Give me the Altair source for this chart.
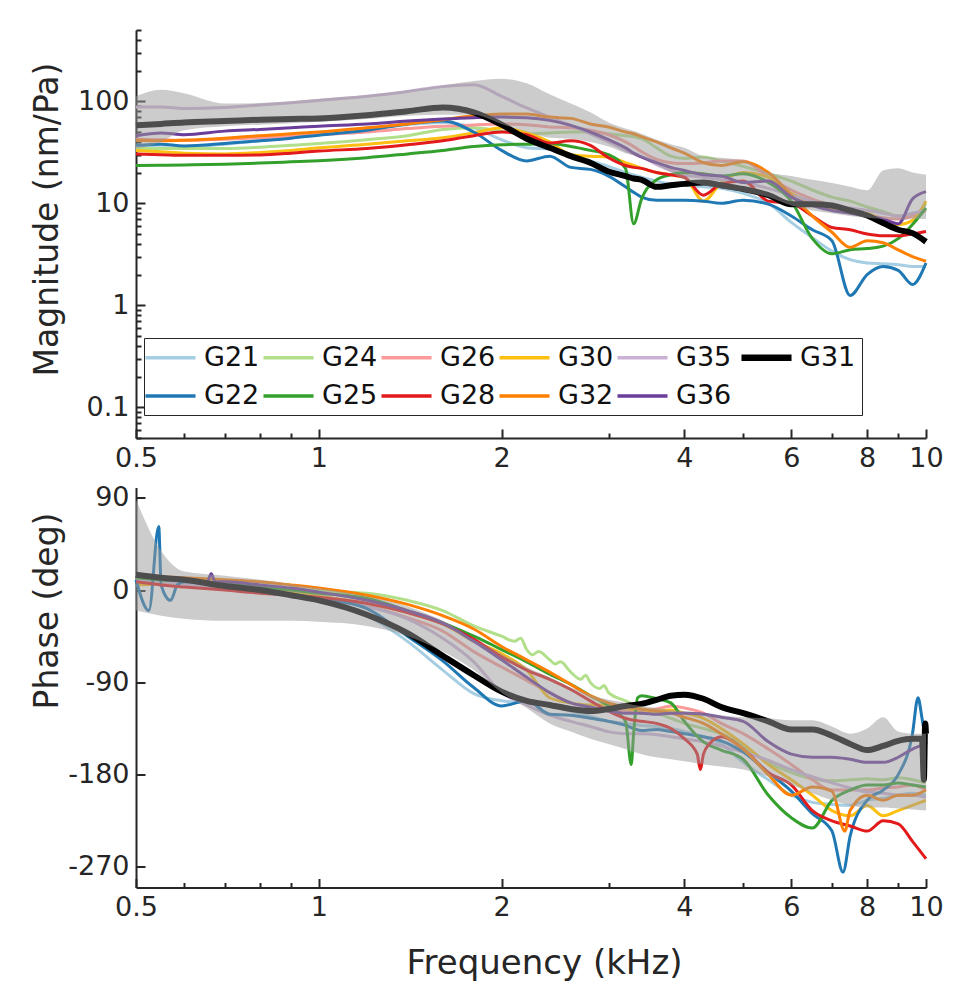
import altair as alt
import pandas as pd

# ---------------- data ----------------
F = [0.5, 0.55, 0.6, 0.7, 0.8, 0.9, 1.0, 1.2, 1.4, 1.6, 1.8, 2.0, 2.2, 2.4, 2.6, 2.8,
     3.0, 3.2, 3.3, 3.4, 3.6, 3.8, 4.0, 4.3, 4.6, 5.0, 5.5, 6.0, 6.5, 7.0, 7.5, 8.0,
     8.5, 9.0, 9.5, 10.0]

SERIES = ["G21", "G24", "G26", "G30", "G35", "G31", "G22", "G25", "G28", "G32", "G36"]
COLORS = ["#a6cee3", "#b2df8a", "#fb9a99", "#fdbf12", "#cab2d6", "#000000",
          "#1f78b4", "#33a02c", "#e31a1c", "#ff7f00", "#6a3d9a"]

# magnitude (nm/Pa)
MAG_G21 = [36, 35, 35.5, 38, 41, 44, 47, 53, 59, 62, 55, 42, 35, 34, 30, 26, 23, 20, 19, 18, 16.5, 15.5, 15, 14.5, 14, 12.5, 10, 6.5, 4.6, 3.4, 2.8, 2.6, 2.55, 2.5, 2.4, 2.4]
MAG_G22 = [37, 38, 36.5, 38.5, 41, 43.5, 46.5, 52, 60, 64, 50, 33, 26, 29, 22.5, 21.5, 18.5, 14.5, 12.8, 11.5, 10.7, 10.7, 10.7, 10.5, 10, 10.7, 9.8, 7.5, 5.5, 4.3, 1.25, 2.0, 2.4, 2.2, 1.6, 2.6]
MAG_G24 = [34.5, 34.5, 34.5, 34.5, 35.5, 37, 38.5, 42, 46, 53, 55, 51, 48, 49, 50, 50, 48, 46, 45, 43, 35, 29, 27.5, 28.5, 26, 23, 19.5, 16.5, 13.5, 11.5, 10.5, 9.2, 8.3, 7.5, 7.5, 10]
MAG_G25 = [23.5, 23.6, 23.8, 24.2, 24.8, 25.5, 26.2, 28, 30.5, 33, 36, 37.5, 38, 38.5, 36, 33, 30, 22, 6.3, 11, 17, 19, 20, 19.5, 18.5, 19.5, 16, 10.5, 4.5, 3.2, 3.5, 3.6, 3.8, 4.5, 6.2, 9]
MAG_G26 = [42.5, 42, 41.5, 42.5, 44, 45.5, 47, 50, 54, 57, 58.5, 60, 59, 56, 55, 52, 47, 40, 36, 32, 27, 25, 24.5, 25, 26, 26, 18, 13.5, 11, 9.5, 8.5, 7.8, 7.2, 7, 7.5, 8.5]
MAG_G28 = [30.5, 30, 29.5, 29.5, 29.8, 31, 32.5, 34.5, 37.5, 41, 46, 50, 47, 39, 41, 37, 28, 23.5, 22.5, 22, 20, 19, 18, 12, 15.5, 16.5, 10.5, 10, 7.5, 5.8, 5.5, 5, 4.8, 4.8, 5, 5.3]
MAG_G30 = [33, 32, 31, 30.5, 31.5, 33, 35, 38, 41, 44, 49, 55, 49, 40, 30, 29, 28.5, 25, 23.5, 22, 20, 19, 18, 10.5, 16, 20, 18, 12.5, 10, 9, 8.5, 8, 6.8, 6.2, 6.8, 10.5]
MAG_G32 = [41.5, 41, 41.5, 43.5, 46, 48, 50, 55, 60, 66, 72, 75, 75, 70, 68, 60, 56, 50, 48, 45, 40, 35, 31, 25, 23.5, 25.5, 20, 12, 7.5, 5.2, 3.7, 4.3, 4.1, 3.5, 3.0, 2.7]
MAG_G35 = [88, 88, 85, 87, 92, 97, 102, 112, 125, 140, 145, 112, 86, 70, 58, 48, 40, 33, 30.5, 28.5, 24, 21, 19, 18, 17, 16, 14, 12, 10.5, 9.5, 9, 8.5, 8, 7.5, 8, 8.5]
MAG_G36 = [46, 49, 47, 51, 53, 55, 57, 60, 64, 67, 69, 70, 69, 65, 58, 50, 42, 35, 31, 28.5, 25, 22.5, 21, 19, 18.5, 16, 16.5, 11.5, 9.5, 8.5, 8, 7.5, 7, 6.3, 11, 13]
MAG_G31 = [58, 60, 62, 64, 66, 67, 68, 73, 80, 87, 78, 59, 43, 35, 29, 25, 20.5, 18.5, 17.5, 17, 14.5, 15, 15.5, 16, 15, 13.8, 12, 9.8, 9.8, 9.5, 8.5, 7.6, 6.4, 5.5, 5.1, 4.2]
MAG_BAND_HI = [112, 130, 120, 95, 96, 100, 106, 115, 128, 143, 158, 166, 150, 117, 95, 78, 62, 54, 51, 48, 42, 38, 35, 29, 28, 26.5, 20.2, 18.5, 17, 15.8, 14.5, 13.4, 21, 22, 20, 19]
MAG_BAND_LO = [34, 40, 52, 57, 59, 61, 63, 67, 72, 74, 74, 60, 50, 44, 43, 40, 36, 31, 29.5, 28, 24, 20, 17, 15, 14, 13, 11.5, 9.5, 8.5, 8, 7.5, 7.2, 7, 6.8, 7, 7]

# phase (deg)
PH_G21 = [10, 5, 5, 2, -1, -5, -9, -25, -50, -78, -101, -108, -110, -113, -118, -123, -128, -130, -131, -132, -133, -135, -138, -143, -150, -168, -185, -200, -207, -209, -210, -205, -203, -200, -198, -200]
PH_G22 = [10, 5, 8, 5, 0, -4, -8, -18, -45, -69, -95, -113, -108, -121, -122, -125, -128, -132, -135, -137, -136, -138, -140, -143, -147, -158, -178, -196, -218, -235, -240, -205, -195, -180, -140, -150]
PH_G24 = [12, 10, 9, 7, 4, 1, -1, -3, -10, -20, -35, -45, -58, -68, -80, -90, -100, -108, -112, -116, -120, -125, -130, -135, -140, -152, -168, -178, -184, -186, -185, -184, -185, -183, -185, -188]
PH_G25 = [12, 10, 9, 6, 3, 0, -3, -8, -20, -32, -45, -58, -70, -82, -92, -103, -113, -128, -140, -103, -106, -110, -128, -148, -156, -165, -200, -222, -232, -205, -195, -190, -190, -188, -190, -192]
PH_G26 = [13, 11, 9, 6, 3, -1, -6, -15, -27, -40, -60, -75, -88, -100, -110, -114, -117, -118, -118, -118, -116, -113, -115, -120, -130, -140, -155, -170, -185, -195, -195, -195, -193, -192, -190, -195]
PH_G28 = [8, 5, 3, 0, -3, -5, -7, -13, -22, -33, -48, -65, -78, -87, -97, -108, -118, -125, -127, -128, -130, -135, -145, -160, -143, -155, -178, -190, -215, -225, -230, -235, -225, -228, -245, -262]
PH_G30 = [5, 6, 8, 5, 1, -3, -6, -13, -22, -33, -50, -62, -78, -105, -110, -112, -112, -115, -117, -120, -118, -117, -120, -125, -135, -150, -170, -185, -200, -215, -220, -210, -220, -215, -210, -205]
PH_G32 = [14, 13, 12, 10, 8, 5, 2, -5, -14, -25, -38, -55, -68, -80, -92, -103, -110, -114, -115, -116, -118, -120, -124, -130, -140, -155, -180, -200, -192, -196, -215, -200, -205, -200, -200, -195]
PH_G35 = [10, 8, 6, 3, -1, -5, -9, -16, -28, -47, -70, -100, -112, -122, -128, -133, -138, -140, -140, -140, -141, -143, -145, -148, -152, -158, -166, -175, -182, -188, -193, -197, -198, -200, -200, -202]
PH_G36 = [14, 12, 10, 8, 5, 2, -2, -10, -20, -32, -50, -68, -85, -100, -110, -114, -118, -120, -120, -120, -121, -120, -120, -121, -124, -128, -148, -160, -163, -163, -165, -168, -168, -163, -155, -150]
PH_G31 = [15, 12, 10, 4, 0, -5, -10, -24, -42, -64, -83, -99, -108, -112, -116, -118, -116, -113, -112, -111, -107, -103, -102, -106, -114, -120, -128, -136, -136, -142, -150, -156, -152, -147, -145, -140]
PH_BAND_HI = [88, 38, 18, 14, 10, 6, 2, -6, -16, -30, -48, -62, -75, -85, -95, -102, -107, -110, -112, -113, -115, -117, -118, -120, -122, -124, -125, -127, -127, -133, -140, -135, -124, -138, -140, -140]
PH_BAND_LO = [-20, -25, -28, -30, -30, -30, -31, -35, -45, -60, -78, -100, -115, -130, -138, -145, -150, -155, -158, -160, -163, -165, -167, -170, -172, -175, -182, -190, -198, -205, -210, -212, -212, -213, -214, -215]

# extra detail points (frequency kHz, phase deg)
PH_EXTRA_G22 = [(0.525, -20), (0.545, 62), (0.57, -10), (0.585, 5), (7.3, -275), (9.7, -105), (9.85, -125)]
PH_EXTRA_G24 = [(2.1, -50), (2.15, -47), (2.25, -63), (2.3, -60), (2.45, -72), (2.5, -70), (2.7, -87), (2.75, -83), (2.9, -96), (2.95, -93)]
PH_EXTRA_G25 = [(3.27, -170), (3.35, -105)]
PH_EXTRA_G28 = [(4.2, -160), (4.25, -175), (4.4, -150)]
PH_EXTRA_G32 = [(7.35, -235)]
PH_EXTRA_G36 = [(0.655, 8), (0.665, 16), (0.675, 8)]
PH_EXTRA_G31 = [(9.85, -145), (9.92, -185), (9.97, -130)]

MAG = {"G21": MAG_G21, "G22": MAG_G22, "G24": MAG_G24, "G25": MAG_G25, "G26": MAG_G26,
       "G28": MAG_G28, "G30": MAG_G30, "G32": MAG_G32, "G35": MAG_G35, "G36": MAG_G36,
       "G31": MAG_G31}
PH = {"G21": PH_G21, "G22": PH_G22, "G24": PH_G24, "G25": PH_G25, "G26": PH_G26,
      "G28": PH_G28, "G30": PH_G30, "G32": PH_G32, "G35": PH_G35, "G36": PH_G36,
      "G31": PH_G31}
PH_EXTRA = {"G22": PH_EXTRA_G22, "G24": PH_EXTRA_G24, "G25": PH_EXTRA_G25,
            "G28": PH_EXTRA_G28, "G32": PH_EXTRA_G32, "G36": PH_EXTRA_G36,
            "G31": PH_EXTRA_G31}


def long_df(table, extra):
    rows = []
    for name in SERIES:
        pts = sorted(list(zip(F, table[name])) + list(extra.get(name, [])))
        for f, v in pts:
            rows.append({"series": name, "f": f, "v": v})
    return pd.DataFrame(rows)


mag_df = long_df(MAG, {})
ph_df = long_df(PH, PH_EXTRA)
mag_band = pd.DataFrame({"f": F, "lo": MAG_BAND_LO, "hi": MAG_BAND_HI})
ph_band = pd.DataFrame({"f": F, "lo": PH_BAND_LO, "hi": PH_BAND_HI})

# ---------------- styling ----------------
W, H1, H2 = 790, 408, 400
AX = "#262626"
FONT = "DejaVu Sans"
LBL = 27
TTL = 33

X_LABELS = [0.5, 1, 2, 4, 6, 8, 10]
X_TICKS = [0.5, 0.6, 0.7, 0.8, 0.9, 1, 2, 3, 4, 5, 6, 7, 8, 9, 10]
MAG_LABELS = [0.1, 1, 10, 100]
MAG_TICKS = [m * 10 ** e for e in range(-2, 3) for m in range(1, 10) if 0.05 <= m * 10 ** e <= 500]
PH_LABELS = [90, 0, -90, -180, -270]

xscale = alt.Scale(type="log", domain=[0.5, 10], nice=False)
mag_scale = alt.Scale(type="log", domain=[0.05, 500], nice=False)
ph_scale = alt.Scale(domain=[-290, 100], nice=False, zero=False)
color_scale = alt.Scale(domain=SERIES, range=COLORS)


def label_axis_x(title):
    kw = dict(values=X_LABELS, labelExpr="datum.value", ticks=False, tickSize=0,
              domain=True, domainColor=AX, domainWidth=2, labelPadding=7,
              labelFontSize=LBL, labelColor=AX, labelFont=FONT, grid=False,
              labelOverlap=False, labelFlush=False)
    if title:
        return alt.Axis(title=title, titleFontSize=34, titleFont=FONT, titleColor=AX,
                        titleFontWeight="normal", titlePadding=26, titleX=408, **kw)
    return alt.Axis(title=None, **kw)


def label_axis_y(values, title, title_y):
    return alt.Axis(values=values, labelExpr="datum.value", ticks=False, tickSize=0,
                    domain=True, domainColor=AX, domainWidth=2, labelPadding=7,
                    labelFontSize=LBL, labelColor=AX, labelFont=FONT, grid=False,
                    title=title, titleFontSize=TTL, titleFont=FONT, titleColor=AX,
                    titleFontWeight="normal", titleX=-72, titleY=title_y)


def tick_axis(orient, offset, values, majors):
    test = "indexof(" + str(list(majors)) + ", datum.value) >= 0"
    return alt.Axis(orient=orient, offset=offset, values=values, labels=False,
                    domain=False, ticks=True, tickColor=AX, tickWidth=2,
                    tickSize={"condition": {"test": test, "value": 9}, "value": 5},
                    grid=False, title=None)


legend = alt.Legend(title=None, orient="none", legendX=8, legendY=308,
                    direction="horizontal", columns=6,
                    symbolType="M-1.43,0H1.43", symbolSize=1225, symbolOffset=7,
                    symbolStrokeWidth=alt.ExprRef("datum.value === 'G31' ? 6.5 : 3.5"),
                    labelFontSize=LBL, labelFont=FONT, labelColor="#111111",
                    labelOffset=20, columnPadding=-4, rowPadding=10.5, padding=6,
                    strokeColor=AX, fillColor="white")


def panel(df, band, yscale, ylabels, yticks, ymajors, ytitle, title_y, xtitle, height, show_legend):
    colored = df[df.series != "G31"]
    black = df[df.series == "G31"]
    col = alt.Color("series:N", scale=color_scale, legend=legend if show_legend else None)
    lines = alt.Chart(colored).mark_line(interpolate="monotone", strokeWidth=3).encode(
        x=alt.X("f:Q", scale=xscale, axis=label_axis_x(xtitle)),
        y=alt.Y("v:Q", scale=yscale, axis=label_axis_y(ylabels, ytitle, title_y)),
        color=col,
    )
    thick = alt.Chart(black).mark_line(interpolate="monotone", strokeWidth=6).encode(
        x=alt.X("f:Q", scale=xscale, axis=None),
        y=alt.Y("v:Q", scale=yscale, axis=None),
        color=col,
    )
    shade = alt.Chart(band).mark_area(interpolate="monotone", color="#999999",
                                      opacity=0.5).encode(
        x=alt.X("f:Q", scale=xscale, axis=tick_axis("top", -height, X_TICKS, X_LABELS)),
        y=alt.Y("lo:Q", scale=yscale, axis=tick_axis("right", -W, yticks, ymajors)),
        y2="hi:Q",
    )
    return alt.layer(lines, thick, shade).resolve_axis(x="independent", y="independent").properties(
        width=W, height=height)


top = panel(mag_df, mag_band, mag_scale, MAG_LABELS, MAG_TICKS, MAG_LABELS,
            "Magnitude (nm/Pa)", 189, None, H1, True)
bottom = panel(ph_df, ph_band, ph_scale, PH_LABELS, PH_LABELS, PH_LABELS,
               "Phase (deg)", 123, "Frequency (kHz)", H2, False)

chart = alt.vconcat(top, bottom, spacing=12.5).resolve_scale(color="independent").properties(
    padding={"left": 22, "top": 21, "right": 20, "bottom": 5},
    background="white",
).configure_view(stroke=None)

chart.save("out.html", embed_options={"renderer": "svg", "actions": False})
